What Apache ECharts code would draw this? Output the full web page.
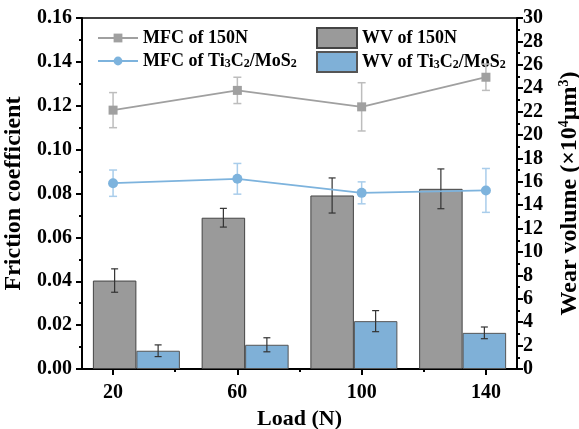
<!DOCTYPE html>
<html>
<head>
<meta charset="utf-8">
<script src="https://cdn.jsdelivr.net/npm/echarts@6/dist/echarts.min.js"></script>
<style>
  html, body { margin: 0; padding: 0; background: #fff; }
  #chart { width: 579px; height: 429px; }
</style>
</head>
<body>
<div id="chart"></div>
<script>
// Load levels (N)
const loads = [20, 60, 100, 140];
const loadTicks = [20, 60, 100, 140];
const loadMinorTicks = [40, 80, 120];

// Mean friction coefficient and its spread
const mfc150 = [0.118, 0.127, 0.1195, 0.133];
const mfc150Err = [0.008, 0.006, 0.011, 0.006];
const mfcTi = [0.0847, 0.0867, 0.0803, 0.0814];
const mfcTiErr = [0.006, 0.007, 0.005, 0.010];

// Wear volume (x10^4 um^3) and its spread
const wv150 = [7.56, 12.93, 14.83, 15.4];
const wv150Err = [1.0, 0.8, 1.5, 1.7];
const wvTi = [1.56, 2.07, 4.09, 3.09];
const wvTiErr = [0.5, 0.6, 0.9, 0.5];

const FONT = "'Liberation Serif', 'Times New Roman', serif";
const GREY_LINE = '#a0a0a0';
const BLUE_LINE = '#7db3dd';
const GREY_BAR = '#9a9a9a';
const BLUE_BAR = '#7fb0d7';

const NAME_MFC150 = 'MFC of 150N';
const NAME_MFCTI = 'MFC of Ti3C2/MoS2';
const NAME_WV150 = 'WV of 150N';
const NAME_WVTI = 'WV of Ti3C2/MoS2';

const richSub = {
  sub: { fontSize: 12, fontWeight: 'bold', fontFamily: FONT, color: '#000', verticalAlign: 'bottom', lineHeight: 12 }
};

function legendText(name) {
  return name.replace('Ti3C2/MoS2', 'Ti{sub|3}C{sub|2}/MoS{sub|2}');
}

// Vertical error bar with caps, for point series on the value x axis
function pointErrorRender(values, errs, color) {
  return function (params, api) {
    const i = api.value(0);
    const x = loads[i];
    const top = api.coord([x, values[i] + errs[i]]);
    const bot = api.coord([x, values[i] - errs[i]]);
    const c = 4;
    return {
      type: 'group',
      children: [
        { type: 'line', shape: { x1: top[0], y1: top[1], x2: bot[0], y2: bot[1] }, style: { stroke: color, lineWidth: 1.5 } },
        { type: 'line', shape: { x1: top[0] - c, y1: top[1], x2: top[0] + c, y2: top[1] }, style: { stroke: color, lineWidth: 1.5 } },
        { type: 'line', shape: { x1: bot[0] - c, y1: bot[1], x2: bot[0] + c, y2: bot[1] }, style: { stroke: color, lineWidth: 1.5 } }
      ]
    };
  };
}

// Error bar on top of a bar in a category band; shift = offset in band widths
function barErrorRender(values, errs, shift) {
  return function (params, api) {
    const i = api.value(0);
    const band = api.size([1, 0])[0];
    const top = api.coord([i, values[i] + errs[i]]);
    const bot = api.coord([i, values[i] - errs[i]]);
    const x = top[0] + shift * band;
    const c = 3.5;
    const color = '#333';
    return {
      type: 'group',
      children: [
        { type: 'line', shape: { x1: x, y1: top[1], x2: x, y2: bot[1] }, style: { stroke: color, lineWidth: 1.2 } },
        { type: 'line', shape: { x1: x - c, y1: top[1], x2: x + c, y2: top[1] }, style: { stroke: color, lineWidth: 1.2 } },
        { type: 'line', shape: { x1: x - c, y1: bot[1], x2: x + c, y2: bot[1] }, style: { stroke: color, lineWidth: 1.2 } }
      ]
    };
  };
}

const chart = echarts.init(document.getElementById('chart'), null, { renderer: 'canvas' });

const axisLabelStyle = { fontFamily: FONT, fontWeight: 'bold', fontSize: 20, color: '#000' };
const axisNameStyle = { fontFamily: FONT, fontWeight: 'bold', fontSize: 22, color: '#000' };
const yNameStyle = { fontFamily: FONT, fontWeight: 'bold', fontSize: 24, color: '#000' };

chart.setOption({
  animation: false,
  backgroundColor: '#fff',
  grid: {
    left: 82, right: 62, top: 18, bottom: 60,
    containLabel: false, outerBoundsMode: 'none',
    show: true, borderColor: '#000', borderWidth: 1.5, backgroundColor: 'transparent'
  },
  legend: [
    {
      data: [NAME_MFC150, NAME_MFCTI],
      orient: 'vertical',
      left: 97, top: 29, padding: 0,
      itemWidth: 40, itemHeight: 11, itemGap: 5,
      formatter: legendText,
      textStyle: { fontFamily: FONT, fontWeight: 'bold', fontSize: 18, color: '#000', lineHeight: 18, rich: richSub }
    },
    {
      data: [NAME_WV150, NAME_WVTI],
      orient: 'vertical',
      left: 316, top: 27, padding: 0,
      icon: 'rect',
      itemWidth: 40, itemHeight: 20, itemGap: 2,
      formatter: legendText,
      textStyle: { fontFamily: FONT, fontWeight: 'bold', fontSize: 18, color: '#000', lineHeight: 18, rich: richSub }
    }
  ],
  xAxis: [
    {
      type: 'value', min: 10, max: 150, position: 'bottom',
      name: 'Load (N)', nameLocation: 'middle', nameGap: 37, nameTextStyle: axisNameStyle,
      axisLine: { show: true, lineStyle: { color: '#000', width: 2 } },
      axisTick: { show: true, customValues: loadTicks, length: 6, lineStyle: { color: '#000', width: 2 } },
      axisLabel: { show: true, customValues: loadTicks, margin: 14, ...axisLabelStyle },
      splitLine: { show: false }
    },
    {
      type: 'value', min: 10, max: 150, position: 'bottom',
      axisLine: { show: false },
      axisTick: { show: true, customValues: loadMinorTicks, length: 3, lineStyle: { color: '#000', width: 2 } },
      axisLabel: { show: false },
      splitLine: { show: false }
    },
    {
      type: 'category', data: loads.map(String), position: 'bottom',
      axisLine: { show: false }, axisTick: { show: false }, axisLabel: { show: false },
      splitLine: { show: false }
    }
  ],
  yAxis: [
    {
      type: 'value', min: 0, max: 0.16, interval: 0.02, position: 'left',
      name: 'Friction coefficient', nameLocation: 'middle', nameGap: 50, nameRotate: 90,
      nameTextStyle: yNameStyle,
      axisLine: { show: true, lineStyle: { color: '#000', width: 2 } },
      axisTick: { show: true, inside: false, length: 6, lineStyle: { color: '#000', width: 2 } },
      minorTick: { show: true, splitNumber: 2, length: 3, lineStyle: { color: '#000', width: 2 } },
      axisLabel: { margin: 10, formatter: v => v.toFixed(2), ...axisLabelStyle },
      splitLine: { show: false }
    },
    {
      type: 'value', min: 0, max: 30, interval: 2, position: 'right',
      name: 'Wear volume (×10{sup|4}μm{sup|3})', nameLocation: 'middle', nameGap: 40, nameRotate: 90,
      nameTextStyle: {
        ...yNameStyle,
        lineHeight: 26,
        rich: {
          sup: { fontSize: 14, fontWeight: 'bold', fontFamily: FONT, color: '#000', verticalAlign: 'top', lineHeight: 14 }
        }
      },
      axisLine: { show: true, lineStyle: { color: '#000', width: 2 } },
      axisTick: { show: true, inside: false, length: 6, lineStyle: { color: '#000', width: 2 } },
      minorTick: { show: true, splitNumber: 2, length: 3, lineStyle: { color: '#000', width: 2 } },
      axisLabel: { margin: 6, ...axisLabelStyle },
      splitLine: { show: false }
    }
  ],
  series: [
    {
      name: NAME_WV150, type: 'bar', xAxisIndex: 2, yAxisIndex: 1,
      data: wv150, barGap: '0%', barCategoryGap: '20%',
      itemStyle: { color: GREY_BAR, borderColor: '#444', borderWidth: 1 },
      z: 2
    },
    {
      name: NAME_WVTI, type: 'bar', xAxisIndex: 2, yAxisIndex: 1,
      data: wvTi, barGap: '0%', barCategoryGap: '20%',
      itemStyle: { color: BLUE_BAR, borderColor: '#555', borderWidth: 1 },
      z: 2
    },
    {
      type: 'custom', xAxisIndex: 2, yAxisIndex: 1,
      data: loads.map((_, i) => [i]),
      renderItem: barErrorRender(wv150, wv150Err, -0.2),
      silent: true, z: 3
    },
    {
      type: 'custom', xAxisIndex: 2, yAxisIndex: 1,
      data: loads.map((_, i) => [i]),
      renderItem: barErrorRender(wvTi, wvTiErr, 0.2),
      silent: true, z: 3
    },
    {
      type: 'custom', xAxisIndex: 0, yAxisIndex: 0,
      data: loads.map((_, i) => [i]),
      renderItem: pointErrorRender(mfc150, mfc150Err, '#bdbdbd'),
      silent: true, z: 4
    },
    {
      type: 'custom', xAxisIndex: 0, yAxisIndex: 0,
      data: loads.map((_, i) => [i]),
      renderItem: pointErrorRender(mfcTi, mfcTiErr, '#a9cdeb'),
      silent: true, z: 4
    },
    {
      name: NAME_MFC150, type: 'line', xAxisIndex: 0, yAxisIndex: 0,
      data: loads.map((x, i) => [x, mfc150[i]]),
      symbol: 'rect', symbolSize: 9,
      lineStyle: { color: GREY_LINE, width: 1.8 },
      itemStyle: { color: GREY_LINE },
      z: 5
    },
    {
      name: NAME_MFCTI, type: 'line', xAxisIndex: 0, yAxisIndex: 0,
      data: loads.map((x, i) => [x, mfcTi[i]]),
      symbol: 'circle', symbolSize: 10,
      lineStyle: { color: BLUE_LINE, width: 1.8 },
      itemStyle: { color: BLUE_LINE },
      z: 5
    }
  ]
});
</script>
</body>
</html>
